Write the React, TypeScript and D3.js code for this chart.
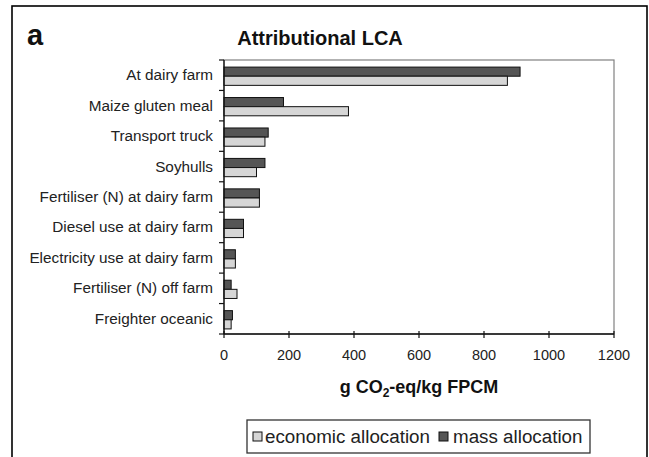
import React from "react";
import * as d3 from "d3";

const categories = [
  "At dairy farm",
  "Maize gluten meal",
  "Transport truck",
  "Soyhulls",
  "Fertiliser (N) at dairy farm",
  "Diesel use at dairy farm",
  "Electricity use at dairy farm",
  "Fertiliser (N) off farm",
  "Freighter oceanic",
];
const massValues = [911, 183, 136, 126, 109, 60, 35, 22, 26];
const economicValues = [872, 383, 126, 100, 109, 60, 35, 40, 22];
const xTicks = [0, 200, 400, 600, 800, 1000, 1200];
const seriesNames = ["mass allocation", "economic allocation"];

const W = 649;
const H = 457;
const FONT = "'Liberation Sans', Arial, sans-serif";
const plot = { left: 224, right: 614, top: 60, bottom: 334 };
const colors: Record<string, string> = {
  "mass allocation": "#555555",
  "economic allocation": "#d6d6d6",
};

export default function App() {
  const x = d3.scaleLinear().domain([0, 1200]).range([plot.left, plot.right]);
  const y = d3
    .scaleBand<string>()
    .domain(categories)
    .range([plot.top, plot.bottom])
    .paddingInner(0.4)
    .paddingOuter(0.2);
  const sub = d3
    .scaleBand<string>()
    .domain(seriesNames)
    .range([0, y.bandwidth()])
    .padding(0);
  const step = y.step();
  const boundaries = d3.range(categories.length + 1).map((i) => plot.top + i * step);

  const valuesFor = (s: string) => (s === "mass allocation" ? massValues : economicValues);

  return (
    <svg
      width={W}
      height={H}
      style={{ position: "absolute", left: 0, top: 0, background: "#fff" }}
      fontFamily={FONT}
    >
      <rect x={0} y={0} width={W} height={H} fill="#fff" />
      {/* outer frame */}
      <rect x={12} y={6} width={635} height={470} fill="none" stroke="#000" strokeWidth={1.6} />

      <text x={27} y={45} fontSize={29} fontWeight="bold" fill="#111">a</text>
      <text x={320} y={45} fontSize={20} fontWeight="bold" textAnchor="middle" fill="#111">
        Attributional LCA
      </text>

      {/* plot border */}
      <rect
        x={plot.left}
        y={plot.top}
        width={plot.right - plot.left}
        height={plot.bottom - plot.top}
        fill="#fff"
        stroke="#808080"
        strokeWidth={1.2}
      />

      {/* bars */}
      {categories.map((c, i) => (
        <g key={c}>
          {seriesNames.map((s) => (
            <rect
              key={s}
              x={x(0)}
              y={(y(c) as number) + (sub(s) as number) + 1}
              width={x(valuesFor(s)[i]) - x(0)}
              height={sub.bandwidth()}
              fill={colors[s]}
              stroke="#111"
              strokeWidth={1}
            />
          ))}
        </g>
      ))}

      {/* y axis */}
      <line x1={plot.left} x2={plot.left} y1={plot.top} y2={plot.bottom} stroke="#111" strokeWidth={1.3} />
      {boundaries.map((b, i) => (
        <line key={i} x1={plot.left - 5} x2={plot.left} y1={b} y2={b} stroke="#111" strokeWidth={1.2} />
      ))}
      {categories.map((c) => (
        <text
          key={c}
          x={213}
          y={(y(c) as number) + y.bandwidth() / 2 + 1}
          fontSize={15.3}
          textAnchor="end"
          dominantBaseline="middle"
          fill="#222"
        >
          {c}
        </text>
      ))}

      {/* x axis */}
      <line x1={plot.left} x2={plot.right} y1={plot.bottom} y2={plot.bottom} stroke="#111" strokeWidth={1.3} />
      {xTicks.map((t) => (
        <g key={t}>
          <line x1={x(t)} x2={x(t)} y1={plot.bottom - 3} y2={plot.bottom + 4} stroke="#111" strokeWidth={1.2} />
          <text x={x(t)} y={360} fontSize={14.5} textAnchor="middle" fill="#222">
            {t}
          </text>
        </g>
      ))}
      <text x={(plot.left + plot.right) / 2} y={393} fontSize={18} fontWeight="bold" textAnchor="middle" fill="#111">
        g CO<tspan fontSize={12} dy={4}>2</tspan>
        <tspan dy={-4}>-eq/kg FPCM</tspan>
      </text>

      {/* legend */}
      <rect x={247} y={420} width={343} height={33} fill="#fff" stroke="#333" strokeWidth={1.3} />
      <rect x={253} y={432} width={9} height={9} fill={colors["economic allocation"]} stroke="#111" strokeWidth={1} />
      <text x={265} y={443} fontSize={18.8} fill="#222">economic allocation</text>
      <rect x={439} y={432} width={9} height={9} fill={colors["mass allocation"]} stroke="#111" strokeWidth={1} />
      <text x={453} y={443} fontSize={18.8} fill="#222">mass allocation</text>
    </svg>
  );
}
